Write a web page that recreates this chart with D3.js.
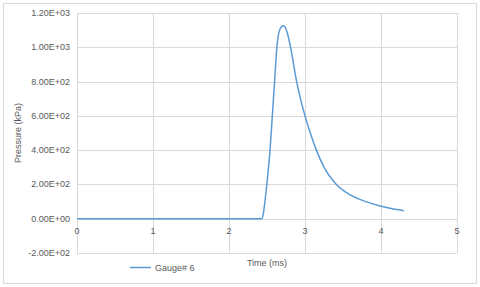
<!DOCTYPE html>
<html>
<head>
    <meta charset="utf-8">
    <title>Gauge 6 pressure</title>
    <style>
        body { margin: 0; background: #fff; }
        text { font-family: "Liberation Sans", Arial, sans-serif; fill: #595959; }
    </style>
</head>
<body>
    <svg id="chart" width="480" height="287"></svg>
    <script src="https://cdn.jsdelivr.net/npm/d3@7"></script>
    <script>
        // time (ms) and pressure (kPa)
        var time = [0, 2.40, 2.43, 2.45, 2.47, 2.50, 2.54, 2.57, 2.60, 2.63, 2.67, 2.715, 2.76, 2.81, 2.89, 3.00, 3.07, 3.15, 3.26, 3.40, 3.59, 3.81, 4.0, 4.15, 4.3];
        var pressure = [0, 0, 0, 25, 90, 210, 400, 600, 800, 1000, 1105, 1125, 1095, 1000, 800, 600, 500, 400, 292, 206, 140, 98, 73, 58, 47];
        var xTicks = [0, 1, 2, 3, 4, 5];
        var yTicks = [-200, 0, 200, 400, 600, 800, 1000, 1200];
        var seriesName = "Gauge# 6";

        var svg = d3.select("#chart");

        // outer chart border
        svg.append("rect")
           .attr("x", 3.5).attr("y", 3.5)
           .attr("width", 473).attr("height", 280)
           .attr("fill", "#fff")
           .attr("stroke", "#d9d9d9");

        var x = d3.scaleLinear().domain([0, 5]).range([77, 457]);
        var y = d3.scaleLinear().domain([-200, 1200]).range([253, 13]);

        // grid
        svg.append("g").selectAll("line")
           .data(yTicks).enter().append("line")
           .attr("x1", x(0)).attr("x2", x(5))
           .attr("y1", function(d) { return Math.round(y(d)) + 0.5; })
           .attr("y2", function(d) { return Math.round(y(d)) + 0.5; })
           .attr("stroke", "#d9d9d9");

        svg.append("g").selectAll("line")
           .data(xTicks).enter().append("line")
           .attr("y1", y(-200)).attr("y2", y(1200))
           .attr("x1", function(d) { return Math.round(x(d)) + 0.5; })
           .attr("x2", function(d) { return Math.round(x(d)) + 0.5; })
           .attr("stroke", "#d9d9d9");

        // y tick labels
        svg.append("g").selectAll("text")
           .data(yTicks).enter().append("text")
           .attr("x", 70)
           .attr("y", function(d) { return y(d) + 3; })
           .attr("text-anchor", "end")
           .style("font-size", "9px")
           .text(function(d) {
               return d.toExponential(2).toUpperCase().replace(/E([+-])(\d)$/, "E$10$2");
           });

        // x tick labels (sit below the zero line)
        svg.append("g").selectAll("text")
           .data(xTicks).enter().append("text")
           .attr("x", function(d) { return x(d); })
           .attr("y", y(0) + 15)
           .attr("text-anchor", "middle")
           .style("font-size", "9px")
           .text(function(d) { return d; });

        // series
        var line = d3.line()
            .x(function(d, i) { return x(time[i]); })
            .y(function(d) { return y(d); })
            .curve(d3.curveMonotoneX);

        svg.append("path")
           .datum(pressure)
           .attr("d", line)
           .attr("fill", "none")
           .attr("stroke", "#5b9bd5")
           .attr("stroke-width", 1.5);

        // axis titles
        svg.append("text")
           .attr("x", (x(0) + x(5)) / 2)
           .attr("y", 266)
           .attr("text-anchor", "middle")
           .style("font-size", "9px")
           .text("Time (ms)");

        svg.append("text")
           .attr("transform", "translate(21," + (y(-200) + y(1200)) / 2 + ") rotate(-90)")
           .attr("text-anchor", "middle")
           .style("font-size", "9px")
           .text("Pressure (kPa)");

        // legend
        svg.append("line")
           .attr("x1", 130).attr("x2", 151)
           .attr("y1", 267.5).attr("y2", 267.5)
           .attr("stroke", "#5b9bd5")
           .attr("stroke-width", 1.5);

        svg.append("text")
           .attr("x", 155)
           .attr("y", 270.5)
           .style("font-size", "9px")
           .text(seriesName);
    </script>
</body>
</html>
